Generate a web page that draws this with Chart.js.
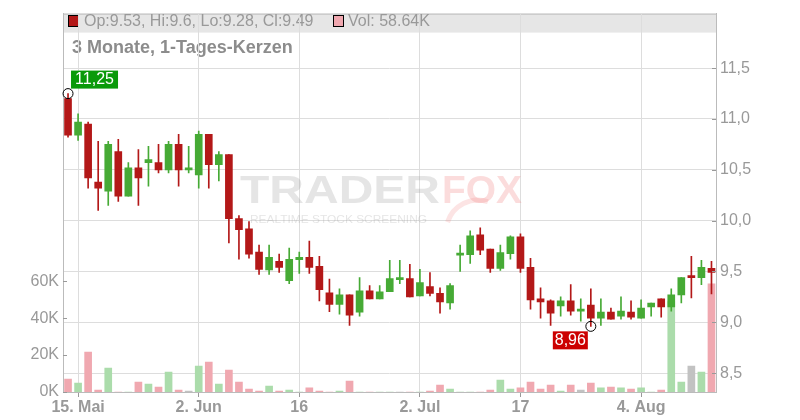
<!DOCTYPE html>
<html>
<head>
<meta charset="utf-8">
<title>3 Monate, 1-Tages-Kerzen</title>
<script src="https://cdn.jsdelivr.net/npm/chart.js@4.4.1/dist/chart.umd.min.js"></script>
<style>
  html, body { margin: 0; padding: 0; background: #fff; }
  #wrap { width: 800px; height: 420px; }
</style>
</head>
<body>
<div id="wrap"><canvas id="chart" width="800" height="420"></canvas></div>
<script>
// ─────────────────────────────────────────────
// DATA (one entry per trading day, 14 May .. 8 Aug)
// ─────────────────────────────────────────────
const opens  = [11.20,10.84,10.95,10.38,10.29,10.68,10.24,10.52,10.57,10.57,10.50,10.75,10.50,10.45,10.85,10.55,
                10.65,10.02,9.92,9.69,9.515,9.60,9.41,9.615,9.64,9.55,9.29,9.175,9.27,9.10,9.31,9.23,
                9.30,9.42,9.43,9.26,9.35,9.285,9.19,9.66,9.665,9.86,9.72,9.53,9.675,9.84,9.54,9.23,
                9.21,9.16,9.21,9.11,9.17,9.04,9.10,9.06,9.10,9.04,9.15,9.23,9.15,9.27,9.45,9.44,9.53];
const highs  = [11.25,11.05,10.97,10.78,10.78,10.80,10.57,10.70,10.73,10.75,10.78,10.85,10.73,10.88,10.85,10.68,
                10.65,10.05,9.99,9.76,9.76,9.67,9.73,9.69,9.80,9.65,9.425,9.33,9.27,9.44,9.36,9.36,
                9.61,9.61,9.57,9.52,9.49,9.34,9.38,9.76,9.90,9.93,9.72,9.76,9.85,9.87,9.63,9.34,
                9.22,9.25,9.37,9.23,9.33,9.23,9.14,9.25,9.21,9.22,9.19,9.23,9.33,9.44,9.65,9.61,9.6];
const lows   = [10.82,10.79,10.32,10.10,10.15,10.19,10.24,10.15,10.34,10.47,10.47,10.34,10.47,10.32,10.32,10.39,
                9.78,9.62,9.63,9.47,9.47,9.49,9.38,9.48,9.48,9.21,9.105,9.08,8.97,9.06,9.23,9.23,
                9.30,9.38,9.25,9.26,9.26,9.09,9.13,9.50,9.58,9.665,9.49,9.51,9.62,9.49,9.13,9.04,
                8.97,9.06,9.07,9.01,8.96,8.97,9.03,9.03,9.03,9.04,9.06,9.05,9.11,9.19,9.24,9.37,9.28];
const closes = [10.84,10.97,10.42,10.32,10.75,10.24,10.52,10.42,10.60,10.50,10.75,10.50,10.50,10.85,10.55,10.65,
                10.02,9.91,9.67,9.52,9.64,9.54,9.62,9.64,9.54,9.32,9.175,9.27,9.07,9.31,9.23,9.30,
                9.43,9.43,9.25,9.39,9.285,9.20,9.36,9.675,9.85,9.71,9.53,9.685,9.84,9.53,9.22,9.20,
                9.09,9.21,9.11,9.11,9.04,9.10,9.03,9.11,9.05,9.14,9.19,9.15,9.27,9.44,9.44,9.54,9.49];
// volume in thousands
const volumes = [7.0,4.9,21.6,1.1,13.0,0,0,5.4,4.3,2.7,10.8,1.1,0.5,14.0,16.2,4.3,
                 11.9,5.4,1.6,0.5,3.2,0.5,1.1,0,2.2,0.5,0,0.5,5.9,0,0,0,
                 0,0,0,0,0.5,3.8,1.6,0,0,0,1.1,6.5,1.6,2.2,5.4,1.6,
                 3.8,0.5,3.8,1.1,4.9,2.2,2.7,2.2,1.6,2.2,0,1.1,49,5.4,14,10.8,58.64];

const dateTickIdx   = [1, 13, 23, 35, 45, 57];
const dateTickLabel = ['15. Mai', '2. Jun', '16', '2. Jul', '17', '4. Aug'];
const priceTicks = [8.5, 9.0, 9.5, 10.0, 10.5, 11.0, 11.5];
const volTicks   = [0, 20, 40, 60];

const title = '3 Monate, 1-Tages-Kerzen';

// ─────────────────────────────────────────────
// COLOURS / FONTS
// ─────────────────────────────────────────────
const UP = '#46aa35', DOWN = '#b31818';
const VOL_UP = '#abdcab', VOL_DOWN = '#f0a8b0', VOL_FLAT = '#c2c2c2';
const FONT = "'Liberation Sans', Arial, sans-serif";
const GRID = '#dddddd', AXIS = '#bbbbbb', TXT = '#999999';

// build datasets from the arrays
const n = closes.length;
const bodies = [], wicks = [], vols = [], bodyCol = [], volCol = [];
for (let i = 0; i < n; i++) {
  bodies.push({ x: i, y: [opens[i], closes[i]] });
  wicks.push({ x: i, y: [lows[i], highs[i]] });
  vols.push({ x: i, y: volumes[i] });
  bodyCol.push(closes[i] >= opens[i] ? UP : DOWN);
  const prev = i === 0 ? opens[0] : closes[i - 1];
  volCol.push(closes[i] > prev ? VOL_UP : closes[i] < prev ? VOL_DOWN : VOL_FLAT);
}

const fmt = v => v.toFixed(2).replace('.', ',');

// ─────────────────────────────────────────────
// DECORATION PLUGIN (header band, watermark, markers)
// ─────────────────────────────────────────────
const deco = {
  id: 'deco',
  beforeDraw(chart) {
    const { ctx, chartArea: a } = chart;
    ctx.save();
    ctx.fillStyle = '#e6e6e6';
    ctx.fillRect(a.left, a.top, a.right - a.left, 19);
    ctx.strokeStyle = AXIS;
    ctx.lineWidth = 1;
    ctx.beginPath();
    ctx.moveTo(a.left, a.top + 0.5);
    ctx.lineTo(a.right, a.top + 0.5);
    ctx.stroke();

    // legend squares + OHLC text of the last day
    const last = n - 1;
    ctx.fillStyle = DOWN;
    ctx.fillRect(69, 16, 9, 10);
    ctx.strokeStyle = '#000';
    ctx.strokeRect(68.5, 15.5, 10, 11);
    ctx.fillStyle = VOL_DOWN;
    ctx.fillRect(334, 16, 9, 10);
    ctx.strokeRect(333.5, 15.5, 10, 11);

    ctx.font = '16px ' + FONT;
    ctx.fillStyle = TXT;
    ctx.textBaseline = 'middle';
    ctx.fillText('Op:' + opens[last] + ', Hi:' + highs[last] + ', Lo:' + lows[last] + ', Cl:' + closes[last], 84, 22);
    ctx.fillText('Vol: ' + volumes[last] + 'K', 348, 22);

    ctx.font = 'bold 18px ' + FONT;
    ctx.fillStyle = '#8c8c8c';
    ctx.fillText(title, 72, 48);
    ctx.restore();
  },
  beforeDatasetsDraw(chart) {
    const { ctx } = chart;
    ctx.save();
    ctx.font = 'bold 39px ' + FONT;
    ctx.textBaseline = 'alphabetic';
    let w = ctx.measureText('TRADER').width;
    ctx.save();
    ctx.translate(240, 203);
    ctx.scale(200 / w, 1);
    ctx.fillStyle = 'rgba(160,160,160,0.28)';
    ctx.fillText('TRADER', 0, 0);
    ctx.restore();
    w = ctx.measureText('FOX').width;
    ctx.save();
    ctx.translate(442, 203);
    ctx.scale(80 / w, 1);
    ctx.fillStyle = 'rgba(240,130,130,0.28)';
    ctx.fillText('FOX', 0, 0);
    ctx.restore();

    ctx.font = '11px ' + FONT;
    w = ctx.measureText('REALTIME STOCK SCREENING').width;
    ctx.save();
    ctx.translate(250, 223);
    ctx.scale(177 / w, 1);
    ctx.fillStyle = 'rgba(160,160,160,0.28)';
    ctx.fillText('REALTIME STOCK SCREENING', 0, 0);
    ctx.restore();

    // fox tail swoosh
    ctx.strokeStyle = 'rgba(240,130,130,0.22)';
    ctx.lineWidth = 5;
    ctx.beginPath();
    ctx.arc(478, 232, 32, Math.PI * 1.1, Math.PI * 1.6);
    ctx.stroke();
    ctx.restore();
  },
  afterDatasetsDraw(chart) {
    const { ctx, scales } = chart;
    const x = scales.x, y = scales.yPrice;
    let hi = 0, lo = 0;
    for (let i = 1; i < n; i++) {
      if (highs[i] > highs[hi]) hi = i;
      if (lows[i] < lows[lo]) lo = i;
    }
    ctx.save();
    ctx.font = '16px ' + FONT;
    ctx.textBaseline = 'middle';
    ctx.textAlign = 'center';

    // high marker
    let cx = x.getPixelForValue(hi), cy = y.getPixelForValue(highs[hi]);
    ctx.strokeStyle = '#000';
    ctx.lineWidth = 1;
    ctx.beginPath(); ctx.arc(cx, cy, 5, 0, Math.PI * 2); ctx.stroke();
    ctx.fillStyle = '#0a9a0a';
    ctx.fillRect(cx + 3, cy - 23, 47, 18);
    ctx.fillStyle = '#fff';
    ctx.fillText(fmt(highs[hi]), cx + 26.5, cy - 13.5);

    // low marker
    cx = x.getPixelForValue(lo); cy = y.getPixelForValue(lows[lo]);
    ctx.beginPath(); ctx.arc(cx, cy, 5, 0, Math.PI * 2); ctx.stroke();
    ctx.fillStyle = '#cc0000';
    ctx.fillRect(cx - 38, cy + 5, 35, 18);
    ctx.fillStyle = '#fff';
    ctx.fillText(fmt(lows[lo]), cx - 20.5, cy + 14.5);
    ctx.restore();
  },
  afterDraw(chart) {
    // small inward tick marks on both value axes
    const { ctx, chartArea: a, scales } = chart;
    ctx.save();
    ctx.strokeStyle = '#999';
    ctx.lineWidth = 1;
    ctx.beginPath();
    priceTicks.forEach(v => {
      const py = Math.round(scales.yPrice.getPixelForValue(v)) + 0.5;
      ctx.moveTo(a.right - 4, py); ctx.lineTo(a.right, py);
    });
    volTicks.forEach(v => {
      const py = Math.round(scales.yVol.getPixelForValue(v)) + 0.5;
      ctx.moveTo(a.left, py); ctx.lineTo(a.left + 4, py);
    });
    ctx.stroke();
    ctx.restore();
  }
};

// ─────────────────────────────────────────────
// CHART
// ─────────────────────────────────────────────
new Chart(document.getElementById('chart'), {
  type: 'bar',
  data: {
    datasets: [
      { data: bodies, yAxisID: 'yPrice', backgroundColor: bodyCol, barThickness: 7,
        minBarLength: 2, grouped: false, order: 1 },
      { data: wicks, yAxisID: 'yPrice', backgroundColor: bodyCol, barThickness: 1,
        grouped: false, order: 2 },
      { data: vols, yAxisID: 'yVol', backgroundColor: volCol, barThickness: 7,
        grouped: false, order: 3 }
    ]
  },
  options: {
    responsive: false,
    animation: false,
    devicePixelRatio: 1,
    layout: { padding: { top: 11, left: 0, right: 0, bottom: 0 } },
    plugins: { legend: { display: false }, tooltip: { enabled: false } },
    scales: {
      x: {
        type: 'linear', min: -0.5, max: 64.45, offset: false,
        grid: { color: GRID, tickLength: 5, tickColor: '#999', offset: false },
        border: { color: AXIS },
        ticks: {
          autoSkip: false, maxRotation: 0, padding: 1, color: TXT,
          font: { family: FONT, size: 16, weight: 'bold' },
          callback: v => dateTickLabel[dateTickIdx.indexOf(v)]
        },
        afterBuildTicks: s => { s.ticks = dateTickIdx.map(v => ({ value: v })); },
        afterFit: s => { s.height = 28; }
      },
      yPrice: {
        position: 'right', min: 8.314, max: 12.037,
        grid: { color: GRID, drawTicks: false },
        border: { color: AXIS },
        ticks: {
          padding: 4, color: TXT, font: { family: FONT, size: 16 },
          callback: v => v.toFixed(1).replace('.', ',')
        },
        afterBuildTicks: s => { s.ticks = priceTicks.map(v => ({ value: v })); },
        afterFit: s => { s.width = 84; }
      },
      yVol: {
        position: 'left', min: 0, max: 205,
        grid: { display: false, drawTicks: false },
        border: { color: AXIS },
        ticks: {
          padding: 4, color: TXT, font: { family: FONT, size: 16 },
          callback: v => v + 'K'
        },
        afterBuildTicks: s => { s.ticks = volTicks.map(v => ({ value: v })); },
        afterFit: s => { s.width = 63; }
      }
    }
  },
  plugins: [deco]
});
</script>
</body>
</html>
